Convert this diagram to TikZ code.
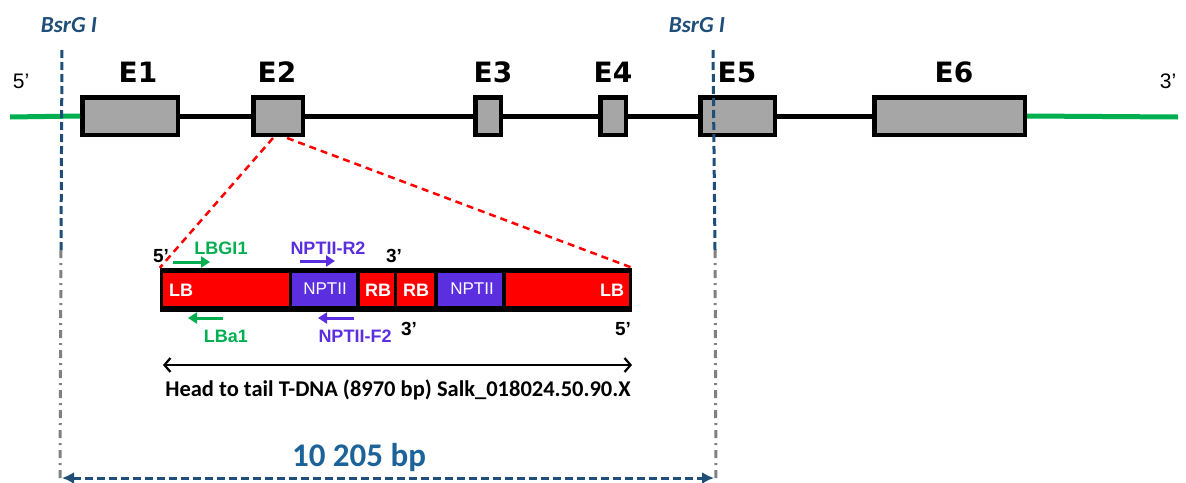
\documentclass[tikz,border=0pt]{standalone}
\usepackage{fontspec}
\setmainfont{Liberation Sans}
\newfontfamily\calfont{Carlito}
\newfontfamily\dvfont{DejaVu Sans}
\usetikzlibrary{arrows.meta}
\definecolor{gnA}{HTML}{00B050}
\definecolor{puA}{HTML}{5B2EE0}
\definecolor{rdA}{HTML}{FF0000}
\definecolor{exgray}{HTML}{A6A6A6}
\definecolor{blA}{HTML}{1F4E79}
\definecolor{blB}{HTML}{1C6399}
\definecolor{gyA}{HTML}{808080}
\begin{document}
\begin{tikzpicture}[x=1pt,y=-1pt,
  exon/.style={draw=black, fill=exgray, line width=4.5pt, inner sep=0, minimum height=37.5pt},
  exlabel/.style={font=\dvfont\bfseries\fontsize{28}{30}\selectfont, inner sep=0},
  endlabel/.style={font=\fontsize{21}{23}\selectfont, inner sep=0},
  bsrg/.style={font=\calfont\bfseries\itshape\fontsize{23}{25}\selectfont, text=blA, inner sep=0},
  seg/.style={inner sep=0, minimum height=33pt},
  redseg/.style={seg, fill=rdA},
  purseg/.style={seg, fill=puA},
  segtxt/.style={font=\bfseries\fontsize{18}{20}\selectfont, text=white, inner sep=0},
  nptxt/.style={font=\fontsize{17}{19}\selectfont, text=white, inner sep=0},
  primer/.style={font=\bfseries\fontsize{18}{20}\selectfont, inner sep=0},
  endsmall/.style={font=\bfseries\fontsize{19}{21}\selectfont, inner sep=0},
  primerarrow/.style={line width=3pt, -{Triangle[length=9pt,width=11pt]}},
  intron/.style={line width=5pt},
  utr/.style={line width=5pt, draw=gnA},
  reddash/.style={draw=rdA, line width=2.5pt, dash pattern=on 7pt off 5pt},
  bluedash/.style={draw=blA, line width=3pt, dash pattern=on 8pt off 4pt},
  graydashdot/.style={draw=gyA, line width=3pt, dash pattern=on 8pt off 5pt on 2pt off 5pt}
]
\useasboundingbox (0,0) rectangle (1186,482);

% gene model
\coordinate (g5) at (10,117);
\coordinate (g3) at (1178,117);
\node[exon, minimum width=95.5pt] (e1) at (130,116) {};
\node[exon, minimum width=49.5pt] (e2) at (278,116) {};
\node[exon, minimum width=25.5pt] (e3) at (488,116) {};
\node[exon, minimum width=25.5pt] (e4) at (613,116) {};
\node[exon, minimum width=74.5pt] (e5) at (737.5,116) {};
\node[exon, minimum width=150.5pt] (e6) at (949.5,116) {};
\draw[utr] (g5) -- (e1.west);
\draw[intron] (e1.east) -- (e2.west);
\draw[intron] (e2.east) -- (e3.west);
\draw[intron] (e3.east) -- (e4.west);
\draw[intron] (e4.east) -- (e5.west);
\draw[intron] (e5.east) -- (e6.west);
\draw[utr] (e6.east) -- (g3);

\node[exlabel] (l1) at (138,72) {E1};
\node[exlabel] (l2) at (277,72) {E2};
\node[exlabel] (l3) at (493,72) {E3};
\node[exlabel] (l4) at (613,72) {E4};
\node[exlabel] (l5) at (737,72) {E5};
\node[exlabel] (l6) at (954,72) {E6};
\node[endlabel] (p5) at (21,81) {5'};
\node[endlabel] (p3) at (1168,81) {3'};

% BsrG I sites
\node[bsrg] (b1) at (69,25) {BsrG I};
\node[bsrg] (b2) at (697,25) {BsrG I};
\coordinate (v1a) at (62,50);
\coordinate (v1b) at (61,250);
\coordinate (v1c) at (60,482);
\coordinate (v2a) at (713,50);
\coordinate (v2b) at (715,250);
\coordinate (v2c) at (716,482);
\draw[bluedash] (v1a) -- (v1b);
\draw[bluedash] (v2a) -- (v2b);
\draw[graydashdot] (v1b) -- (v1c);
\draw[graydashdot] (v2b) -- (v2c);

% T-DNA bar
\node[fill=black, inner sep=0, minimum width=472pt, minimum height=44pt] (bar) at (396,290) {};
\node[redseg, minimum width=126pt] (lb1) at (226,289) {};
\node[purseg, minimum width=64pt] (np1) at (324,289) {};
\node[redseg, minimum width=34pt] (rb1) at (377,289) {};
\node[redseg, minimum width=37pt] (rb2) at (415.5,289) {};
\node[purseg, minimum width=64pt] (np2) at (470,289) {};
\node[redseg, minimum width=123pt] (lb2) at (567.5,289) {};
\node[segtxt] (tlb1) at (181,290) {LB};
\node[nptxt] (tnp1) at (325,289) {NPTII};
\node[segtxt] (trb1) at (378,290) {RB};
\node[segtxt] (trb2) at (416,290) {RB};
\node[nptxt] (tnp2) at (472,289) {NPTII};
\node[segtxt] (tlb2) at (612,290) {LB};

% red dashed zoom lines
\coordinate (z1) at (273,138);
\coordinate (z2) at (287,138);
\draw[reddash] (z1) -- (bar.north west);
\draw[reddash] (z2) -- (bar.north east);

% primers
\node[endsmall] (s5a) at (161,256) {5'};
\node[primer, text=gnA] (lbg) at (221,248) {LBGI1};
\coordinate (ga1) at (173,262);
\coordinate (ga2) at (210,262);
\draw[primerarrow, draw=gnA, fill=gnA] (ga1) -- (ga2);
\node[primer, text=puA] (r2) at (328,248) {NPTII-R2};
\coordinate (pa1) at (300,261);
\coordinate (pa2) at (335,261);
\draw[primerarrow, draw=puA, fill=puA] (pa1) -- (pa2);
\node[endsmall] (s3a) at (394,256) {3'};

\coordinate (gb1) at (223,318);
\coordinate (gb2) at (188,318);
\draw[primerarrow, draw=gnA, fill=gnA] (gb1) -- (gb2);
\node[primer, text=gnA] (lba) at (226,336) {LBa1};
\coordinate (pb1) at (354,318);
\coordinate (pb2) at (318,318);
\draw[primerarrow, draw=puA, fill=puA] (pb1) -- (pb2);
\node[primer, text=puA] (f2) at (355,336) {NPTII-F2};
\node[endsmall] (s3b) at (409,329) {3'};
\node[endsmall] (s5b) at (623,329) {5'};

% T-DNA length
\coordinate (h1) at (163,365);
\coordinate (h2) at (632,365);
\draw[line width=2.2pt, {Straight Barb[length=6pt,width=14pt]}-{Straight Barb[length=6pt,width=14pt]}] (h1) -- (h2);
\node[font=\calfont\bfseries\fontsize{22.5}{24}\selectfont, inner sep=0] (htt) at (398,390) {Head to tail T-DNA (8970 bp) Salk\_018024.50.90.X};

% fragment length
\coordinate (f1) at (62,478);
\coordinate (f2c) at (714,478);
\draw[bluedash, {Latex[length=12pt,width=12pt]}-{Latex[length=12pt,width=12pt]}] (f1) -- (f2c);
\node[font=\calfont\bfseries\fontsize{33}{36}\selectfont, text=blB, inner sep=0] (len) at (359,458) {10 205 bp};
\end{tikzpicture}
\end{document}
